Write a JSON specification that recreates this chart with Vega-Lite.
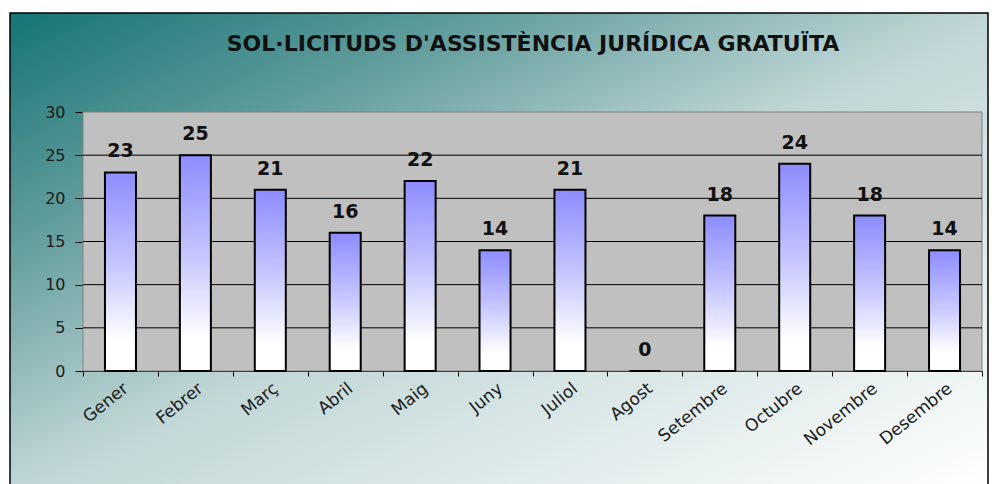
{
  "$schema": "https://vega.github.io/schema/vega-lite/v6.json",
  "width": 978,
  "height": 475,
  "autosize": {"type": "none"},
  "padding": {"left": 10, "top": 13, "right": 7, "bottom": 0},
  "background": "white",
  "config": {
    "view": {
      "fill": {
        "gradient": "linear",
        "x1": 0, "y1": 0, "x2": 1, "y2": 1,
        "stops": [
          {"offset": 0, "color": "#167474"},
          {"offset": 0.25, "color": "#649e9e"},
          {"offset": 0.5, "color": "#c0d6d6"},
          {"offset": 1, "color": "#ffffff"}
        ]
      },
      "stroke": "black",
      "strokeWidth": 1.5
    }
  },
  "title": {
    "text": "SOL·LICITUDS D'ASSISTÈNCIA JURÍDICA GRATUÏTA",
    "font": "DejaVu Sans",
    "fontSize": 22,
    "fontWeight": "bold",
    "color": "#111111",
    "anchor": "middle",
    "dx": 34,
    "offset": -60,
    "baseline": "alphabetic"
  },
  "datasets": {
    "months": [
      {"mes": "Gener", "sol": 23},
      {"mes": "Febrer", "sol": 25},
      {"mes": "Març", "sol": 21},
      {"mes": "Abril", "sol": 16},
      {"mes": "Maig", "sol": 22},
      {"mes": "Juny", "sol": 14},
      {"mes": "Juliol", "sol": 21},
      {"mes": "Agost", "sol": 0},
      {"mes": "Setembre", "sol": 18},
      {"mes": "Octubre", "sol": 24},
      {"mes": "Novembre", "sol": 18},
      {"mes": "Desembre", "sol": 14}
    ],
    "grid": [{"v": 5}, {"v": 10}, {"v": 15}, {"v": 20}, {"v": 25}]
  },
  "layer": [
    {
      "data": {"values": [{"lo": 0, "hi": 30}]},
      "mark": {"type": "rect", "fill": "#c0c0c0", "stroke": "#808080", "strokeWidth": 1},
      "encoding": {
        "x": {"datum": 0, "type": "quantitative", "scale": {"domain": [0, 1], "range": [73, 972]}, "axis": null},
        "x2": {"datum": 1},
        "y": {
          "field": "lo", "type": "quantitative",
          "scale": {"domain": [0, 30], "range": [358, 99], "nice": false},
          "axis": {
            "offset": -73, "values": [0, 5, 10, 15, 20, 25, 30], "grid": false,
            "domainColor": "black", "tickColor": "black", "tickSize": 8,
            "labelFont": "DejaVu Sans", "labelFontSize": 16, "labelColor": "#1a1a1a",
            "labelPadding": 10, "title": null
          }
        },
        "y2": {"field": "hi"}
      }
    },
    {
      "data": {"name": "grid"},
      "mark": {"type": "rule", "color": "black", "strokeWidth": 1},
      "encoding": {
        "x": {"datum": 0, "type": "quantitative", "scale": {"domain": [0, 1], "range": [73, 972]}, "axis": null},
        "x2": {"datum": 1},
        "y": {
          "field": "v", "type": "quantitative",
          "scale": {"domain": [0, 30], "range": [358, 99], "nice": false},
          "axis": {
            "offset": -73, "values": [0, 5, 10, 15, 20, 25, 30], "grid": false,
            "domainColor": "black", "tickColor": "black", "tickSize": 8,
            "labelFont": "DejaVu Sans", "labelFontSize": 16, "labelColor": "#1a1a1a",
            "labelPadding": 10, "title": null
          }
        }
      }
    },
    {
      "data": {"name": "months"},
      "mark": {
        "type": "bar",
        "width": {"band": 0.414},
        "stroke": "black",
        "strokeWidth": 2,
        "fill": {
          "gradient": "linear",
          "x1": 0, "y1": 0, "x2": 0, "y2": 1,
          "stops": [
            {"offset": 0, "color": "#8c8cff"},
            {"offset": 0.45, "color": "#c4c4ff"},
            {"offset": 0.85, "color": "#ffffff"},
            {"offset": 1, "color": "#ffffff"}
          ]
        }
      },
      "encoding": {
        "x": {
          "field": "mes", "type": "nominal", "sort": null,
          "scale": {"type": "band", "range": [73, 972], "paddingInner": 0, "paddingOuter": 0},
          "axis": {
            "offset": -117, "grid": false, "domainColor": "black", "tickColor": "black",
            "tickSize": 5, "tickBand": "extent",
            "labelFont": "DejaVu Sans", "labelFontSize": 17, "labelColor": "#1a1a1a",
            "labelAngle": -39, "labelPadding": 4, "title": null
          }
        },
        "y": {
          "field": "sol", "type": "quantitative",
          "scale": {"domain": [0, 30], "range": [358, 99], "nice": false},
          "axis": {
            "offset": -73, "values": [0, 5, 10, 15, 20, 25, 30], "grid": false,
            "domainColor": "black", "tickColor": "black", "tickSize": 8,
            "labelFont": "DejaVu Sans", "labelFontSize": 16, "labelColor": "#1a1a1a",
            "labelPadding": 10, "title": null
          }
        }
      }
    },
    {
      "data": {"name": "months"},
      "mark": {"type": "text", "font": "DejaVu Sans", "fontSize": 19, "fontWeight": "bold", "color": "#111111", "baseline": "alphabetic", "dy": -15},
      "encoding": {
        "x": {"field": "mes", "type": "nominal", "sort": null, "scale": {"type": "band", "range": [73, 972], "paddingInner": 0, "paddingOuter": 0}, "axis": null},
        "y": {
          "field": "sol", "type": "quantitative",
          "scale": {"domain": [0, 30], "range": [358, 99], "nice": false},
          "axis": {
            "offset": -73, "values": [0, 5, 10, 15, 20, 25, 30], "grid": false,
            "domainColor": "black", "tickColor": "black", "tickSize": 8,
            "labelFont": "DejaVu Sans", "labelFontSize": 16, "labelColor": "#1a1a1a",
            "labelPadding": 10, "title": null
          }
        },
        "text": {"field": "sol", "type": "quantitative"}
      }
    }
  ],
  "resolve": {"scale": {"x": "independent"}}
}
